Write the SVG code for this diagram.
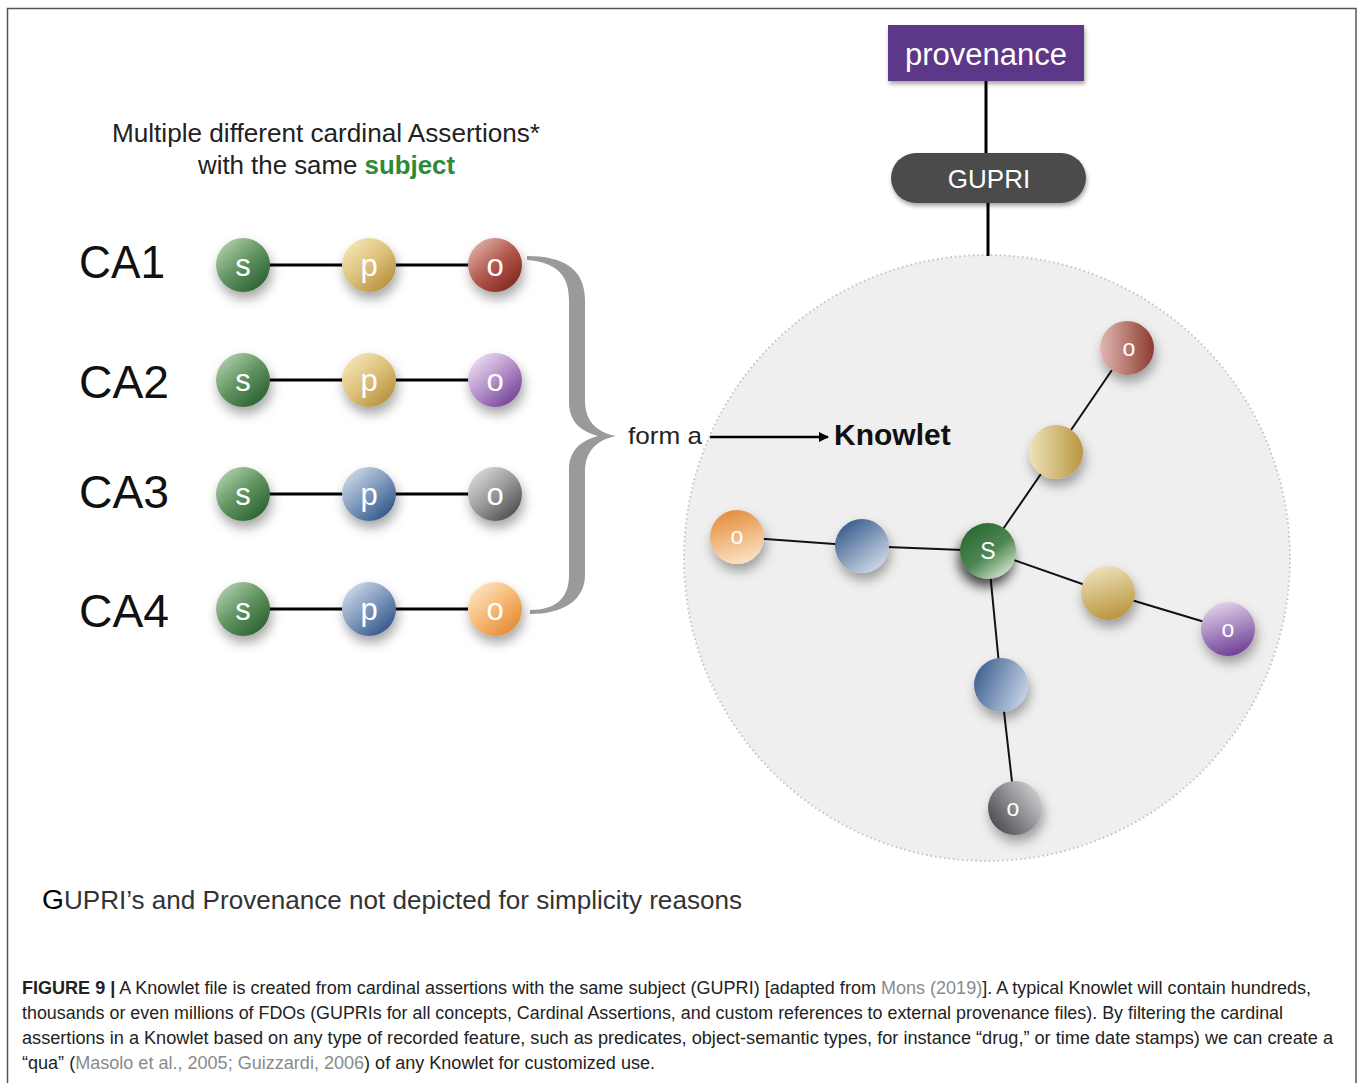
<svg xmlns="http://www.w3.org/2000/svg" width="1358" height="1083" viewBox="0 0 1358 1083">
<defs>
<style>
text{font-family:"Liberation Sans",Arial,sans-serif}
.lbl{fill:#fff;font-size:31px;text-anchor:middle}
.klbl{fill:#fff;font-size:23px;text-anchor:middle}
.ca{font-size:46px;fill:#111}
.edge{stroke:#000;stroke-width:3;fill:none}
.kedge{stroke:#111;stroke-width:2;fill:none}
.cap{font-size:17.5px;fill:#222}
.ref{fill:#8a8a8a}
</style>
<filter id="sh" x="-60%" y="-60%" width="220%" height="220%">
<feDropShadow dx="2" dy="7" stdDeviation="6" flood-color="#000" flood-opacity="0.35"/>
</filter>
<filter id="shS" x="-60%" y="-60%" width="220%" height="220%">
<feDropShadow dx="-2" dy="8" stdDeviation="6" flood-color="#000" flood-opacity="0.7"/>
</filter>
<filter id="shB" x="-20%" y="-30%" width="140%" height="160%">
<feDropShadow dx="1" dy="3" stdDeviation="2" flood-color="#000" flood-opacity="0.35"/>
</filter>
<linearGradient id="gG" x1="0.15" y1="0.1" x2="0.85" y2="0.9"><stop offset="0" stop-color="#aacba5"/><stop offset="0.5" stop-color="#5f9260"/><stop offset="1" stop-color="#2c6332"/></linearGradient>
<linearGradient id="gY" x1="0.15" y1="0.1" x2="0.85" y2="0.9"><stop offset="0" stop-color="#f4e4b4"/><stop offset="0.5" stop-color="#dcc07a"/><stop offset="1" stop-color="#b8923f"/></linearGradient>
<linearGradient id="gR" x1="0.15" y1="0.1" x2="0.85" y2="0.9"><stop offset="0" stop-color="#dcaaa2"/><stop offset="0.5" stop-color="#b1584d"/><stop offset="1" stop-color="#842a20"/></linearGradient>
<linearGradient id="gP" x1="0.15" y1="0.1" x2="0.85" y2="0.9"><stop offset="0" stop-color="#e8daee"/><stop offset="0.5" stop-color="#b48fc8"/><stop offset="1" stop-color="#74459a"/></linearGradient>
<linearGradient id="gB" x1="0.15" y1="0.1" x2="0.85" y2="0.9"><stop offset="0" stop-color="#c8d6e7"/><stop offset="0.5" stop-color="#7e97bb"/><stop offset="1" stop-color="#35588a"/></linearGradient>
<linearGradient id="gK" x1="0.15" y1="0.1" x2="0.85" y2="0.9"><stop offset="0" stop-color="#d6d6d8"/><stop offset="0.5" stop-color="#99999c"/><stop offset="1" stop-color="#4f5053"/></linearGradient>
<linearGradient id="gO" x1="0.15" y1="0.1" x2="0.85" y2="0.9"><stop offset="0" stop-color="#fde3bf"/><stop offset="0.5" stop-color="#f6b874"/><stop offset="1" stop-color="#e68c33"/></linearGradient>
<linearGradient id="kR" x1="0" y1="0" x2="1" y2="0"><stop offset="0" stop-color="#dfb8b2"/><stop offset="1" stop-color="#8c3b30"/></linearGradient>
<linearGradient id="kY1" x1="0" y1="0" x2="1" y2="0"><stop offset="0" stop-color="#efe2bb"/><stop offset="1" stop-color="#b8963f"/></linearGradient>
<linearGradient id="kS" x1="0.2" y1="0.1" x2="0.8" y2="0.9"><stop offset="0" stop-color="#2c6a33"/><stop offset="0.55" stop-color="#4f8752"/><stop offset="1" stop-color="#c5dcc2"/></linearGradient>
<linearGradient id="kO" x1="0.3" y1="0" x2="0.6" y2="1"><stop offset="0" stop-color="#e48d3c"/><stop offset="1" stop-color="#fbe2c4"/></linearGradient>
<linearGradient id="kB1" x1="0.2" y1="0.1" x2="0.8" y2="0.9"><stop offset="0" stop-color="#3f6291"/><stop offset="1" stop-color="#c8d5e5"/></linearGradient>
<linearGradient id="kY2" x1="0.3" y1="0" x2="0.6" y2="1"><stop offset="0" stop-color="#efe2bd"/><stop offset="1" stop-color="#b8943c"/></linearGradient>
<linearGradient id="kP" x1="0.3" y1="0" x2="0.6" y2="1"><stop offset="0" stop-color="#e2d4ea"/><stop offset="1" stop-color="#6e3f97"/></linearGradient>
<linearGradient id="kB2" x1="0" y1="0.3" x2="1" y2="0.7"><stop offset="0" stop-color="#3e6190"/><stop offset="1" stop-color="#c6d4e6"/></linearGradient>
<linearGradient id="kK" x1="0.1" y1="0.8" x2="0.9" y2="0.2"><stop offset="0" stop-color="#4f5055"/><stop offset="1" stop-color="#c7c8ca"/></linearGradient>
<marker id="arr" viewBox="0 0 10 10" refX="9" refY="5" markerWidth="11" markerHeight="10" markerUnits="userSpaceOnUse" orient="auto"><path d="M0,0 L10,5 L0,10 Z" fill="#000"/></marker>
</defs>

<rect width="1358" height="1083" fill="#fff"/>
<path d="M7.5,1083 V8.5 H1356 V1083" fill="none" stroke="#555" stroke-width="1.5"/>

<!-- knowlet background -->
<g id="knowlet-area">
<circle cx="987" cy="558" r="303" fill="#efefef" stroke="#c4c4c4" stroke-width="2" stroke-dasharray="1.5 3"/>
</g>

<!-- titles -->
<text x="112" y="142" font-size="25" fill="#222" textLength="428" lengthAdjust="spacingAndGlyphs">Multiple different cardinal Assertions*</text>
<text x="198" y="174" font-size="25" fill="#222" textLength="257" lengthAdjust="spacingAndGlyphs">with the same <tspan font-weight="bold" fill="#2f8a37">subject</tspan></text>

<!-- CA labels -->
<text class="ca" x="79" y="278" textLength="86" lengthAdjust="spacingAndGlyphs">CA1</text>
<text class="ca" x="79" y="398" textLength="90" lengthAdjust="spacingAndGlyphs">CA2</text>
<text class="ca" x="79" y="508" textLength="90" lengthAdjust="spacingAndGlyphs">CA3</text>
<text class="ca" x="79" y="627" textLength="90" lengthAdjust="spacingAndGlyphs">CA4</text>

<!-- connectors -->
<g id="connectors">
<path class="edge" d="M243,265 H495 M243,380 H495 M243,494 H495 M243,609 H495"/>
<path d="M527,256 C562,256 585,268 585,300 L585,400 C585,421 596,432 616,436 C596,440 585,452 585,472 L585,575 C585,601 562,614 530,614 L530,610 C556,610 569,598 569,575 L569,470 C569,452 579,441 598,436 C579,431 569,420 569,402 L569,300 C569,274 555,262 527,260 Z" fill="#9a9a9a"/>
<line x1="710" y1="437" x2="828" y2="437" stroke="#000" stroke-width="2.5" marker-end="url(#arr)"/>
<path d="M986,81 V153 M988,203 V256" stroke="#000" stroke-width="3" fill="none"/>
<path class="kedge" d="M988,551 L862,546 L737,537 M988,551 L1056,452 L1127,348 M988,551 L1108,593 L1228,629 M988,551 L1001,685 L1015,808"/>
</g>

<!-- CA rows -->
<g id="ca1">
<circle cx="243" cy="265" r="27" fill="url(#gG)" filter="url(#sh)"/><text class="lbl" x="243" y="276">s</text>
<circle cx="369" cy="265" r="27" fill="url(#gY)" filter="url(#sh)"/><text class="lbl" x="369" y="276">p</text>
<circle cx="495" cy="265" r="27" fill="url(#gR)" filter="url(#sh)"/><text class="lbl" x="495" y="276">o</text>
</g>
<g id="ca2">
<circle cx="243" cy="380" r="27" fill="url(#gG)" filter="url(#sh)"/><text class="lbl" x="243" y="391">s</text>
<circle cx="369" cy="380" r="27" fill="url(#gY)" filter="url(#sh)"/><text class="lbl" x="369" y="391">p</text>
<circle cx="495" cy="380" r="27" fill="url(#gP)" filter="url(#sh)"/><text class="lbl" x="495" y="391">o</text>
</g>
<g id="ca3">
<circle cx="243" cy="494" r="27" fill="url(#gG)" filter="url(#sh)"/><text class="lbl" x="243" y="505">s</text>
<circle cx="369" cy="494" r="27" fill="url(#gB)" filter="url(#sh)"/><text class="lbl" x="369" y="505">p</text>
<circle cx="495" cy="494" r="27" fill="url(#gK)" filter="url(#sh)"/><text class="lbl" x="495" y="505">o</text>
</g>
<g id="ca4">
<circle cx="243" cy="609" r="27" fill="url(#gG)" filter="url(#sh)"/><text class="lbl" x="243" y="620">s</text>
<circle cx="369" cy="609" r="27" fill="url(#gB)" filter="url(#sh)"/><text class="lbl" x="369" y="620">p</text>
<circle cx="495" cy="609" r="27" fill="url(#gO)" filter="url(#sh)"/><text class="lbl" x="495" y="620">o</text>
</g>

<g id="form-label">
<text x="628" y="444" font-size="24" fill="#222" textLength="74" lengthAdjust="spacingAndGlyphs">form a</text>
<text x="834" y="445" font-size="30" font-weight="bold" fill="#111">Knowlet</text>
</g>

<!-- provenance / GUPRI -->
<g id="provenance">
<rect x="888" y="25" width="196" height="56" fill="#5d3889" filter="url(#shB)"/>
<text x="986" y="65" font-size="31" fill="#fff" text-anchor="middle">provenance</text>
</g>
<g id="gupri">
<rect x="891" y="153" width="195" height="50" rx="25" fill="#4c4c4c" filter="url(#shB)"/>
<text x="989" y="188" font-size="26" fill="#fff" text-anchor="middle">GUPRI</text>
</g>

<!-- knowlet nodes -->
<g id="k-o-brown"><circle cx="1127" cy="348" r="27" fill="url(#kR)" filter="url(#sh)"/><text class="klbl" x="1129" y="356">o</text></g>
<g id="k-p-yellow1"><circle cx="1056" cy="452" r="27" fill="url(#kY1)" filter="url(#sh)"/></g>
<g id="k-o-orange"><circle cx="737" cy="537" r="27" fill="url(#kO)" filter="url(#sh)"/><text class="klbl" x="737" y="544">o</text></g>
<g id="k-p-blue1"><circle cx="862" cy="546" r="27" fill="url(#kB1)" filter="url(#sh)"/></g>
<g id="k-p-yellow2"><circle cx="1108" cy="593" r="27" fill="url(#kY2)" filter="url(#sh)"/></g>
<g id="k-o-purple"><circle cx="1228" cy="629" r="27" fill="url(#kP)" filter="url(#sh)"/><text class="klbl" x="1228" y="637">o</text></g>
<g id="k-p-blue2"><circle cx="1001" cy="685" r="27" fill="url(#kB2)" filter="url(#sh)"/></g>
<g id="k-o-gray"><circle cx="1015" cy="808" r="27" fill="url(#kK)" filter="url(#sh)"/><text class="klbl" x="1013" y="816">o</text></g>
<g id="k-s"><circle cx="988" cy="551" r="28" fill="url(#kS)" filter="url(#shS)"/><text class="klbl" x="988" y="559">S</text></g>

<text x="42" y="909" font-size="25" fill="#333" textLength="700" lengthAdjust="spacingAndGlyphs"><tspan fill="#000" font-size="27">G</tspan>UPRI’s and Provenance not depicted for simplicity reasons</text>

<!-- caption -->
<g id="caption">
<text class="cap" x="22" y="994" textLength="1289" lengthAdjust="spacingAndGlyphs"><tspan font-weight="bold">FIGURE 9 |</tspan> A Knowlet file is created from cardinal assertions with the same subject (GUPRI) [adapted from <tspan class="ref">Mons (2019)</tspan>]. A typical Knowlet will contain hundreds,</text>
<text class="cap" x="22" y="1019" textLength="1261" lengthAdjust="spacingAndGlyphs">thousands or even millions of FDOs (GUPRIs for all concepts, Cardinal Assertions, and custom references to external provenance files). By filtering the cardinal</text>
<text class="cap" x="22" y="1044" textLength="1311" lengthAdjust="spacingAndGlyphs">assertions in a Knowlet based on any type of recorded feature, such as predicates, object-semantic types, for instance “drug,” or time date stamps) we can create a</text>
<text class="cap" x="22" y="1069" textLength="633" lengthAdjust="spacingAndGlyphs">“qua” (<tspan class="ref">Masolo et al., 2005; Guizzardi, 2006</tspan>) of any Knowlet for customized use.</text>
</g>
</svg>
